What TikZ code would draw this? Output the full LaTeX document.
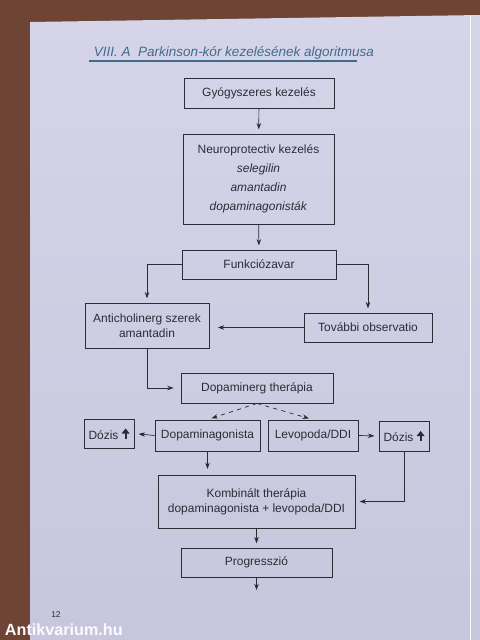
\documentclass[tikz,border=0pt]{standalone}
\usepackage{amsmath}
\usepackage{amssymb}
\usepackage{fontspec}
\setmainfont{Liberation Sans}
\usepackage{xcolor}
\usetikzlibrary{arrows.meta}

\definecolor{woodc}{HTML}{6E4434}
\definecolor{pagetop}{HTML}{D6D4E8}
\definecolor{pagebot}{HTML}{C8C6DD}
\definecolor{titlec}{HTML}{3F6C8C}
\definecolor{inkc}{HTML}{2C2C36}

\newcommand{\felnyil}{\tikz[baseline=-0.5pt]\draw[inkc, line width=1.4pt, -{Triangle[length=3.6pt,width=5.5pt]}] (0,0) -- (0,7.2pt);}

\begin{document}
\begin{tikzpicture}[x=0.025cm, y=-0.025cm,
        box/.style={draw=inkc, line width=0.6pt, inner sep=1pt, align=center,
                    font=\fontsize{8.5}{10.5}\selectfont, text=inkc},
        conn/.style={draw=inkc, line width=0.5pt, -{Stealth[length=4.5pt,width=3.2pt]}},
        gap/.style={shorten >=3pt}]
                \useasboundingbox (0,0) rectangle (480,640);
                \fill[woodc] (0,0) rectangle (480,640);
                \shade[top color=pagetop, bottom color=pagebot] (30,22) -- (480,15) -- (480,640) -- (30,640) -- cycle;
                \draw[white!85!pagetop, line width=0.6pt] (470,16) -- (470,640);

                \node[anchor=base west, text=titlec, font=\fontsize{9.6}{11}\selectfont\itshape] (title) at (89,56) {VIII. A\ \ Parkinson-kór kezelésének algoritmusa};
                \draw[titlec, line width=1.1pt] (89,61) -- (357,61);

                \node[box, minimum width=3.75cm, minimum height=0.75cm] (gyogy) at (259,93) {Gyógyszeres kezelés};
                \node[box, minimum width=3.775cm, minimum height=2.25cm, font=\fontsize{8.5}{13.5}\selectfont] (neuro) at (258.5,179)
                        {Neuroprotectiv kezelés\\ \textit{selegilin}\\ \textit{amantadin}\\ \textit{dopaminagonisták}};
                \node[box, minimum width=3.85cm, minimum height=0.725cm] (funk) at (259,264.5) {Funkciózavar};
                \node[box, minimum width=3.1cm, minimum height=1.125cm] (antich) at (147,325.5) {Anticholinerg szerek\\ amantadin};
                \node[box, minimum width=3.2cm, minimum height=0.725cm] (tovabbi) at (368,327.5) {További observatio};
                \node[box, minimum width=3.8cm, minimum height=0.75cm] (dopther) at (257,388) {Dopaminerg therápia};
                \node[box, minimum width=1.25cm, minimum height=0.725cm] (dozisL) at (109,433.5) {Dózis \felnyil};
                \node[box, minimum width=2.625cm, minimum height=0.775cm] (dopag) at (207.5,435.5) {Dopaminagonista};
                \node[box, minimum width=2.25cm, minimum height=0.775cm] (levo) at (313,435.5) {Levopoda/DDI};
                \node[box, minimum width=1.25cm, minimum height=0.75cm] (dozisR) at (404,436) {Dózis \felnyil};
                \node[box, minimum width=4.925cm, minimum height=1.325cm] (komb) at (256.5,501.5) {Kombinált therápia\\ dopaminagonista + levopoda/DDI};
                \node[box, minimum width=3.775cm, minimum height=0.725cm] (progr) at (256.5,562.5) {Progresszió};
                \coordinate (vege) at (256.5,590);

                \draw[conn, gap] (gyogy) -- (neuro);
                \draw[conn, gap] (neuro) -- (funk);
                \draw[conn, gap=8pt] (funk.west) -| (antich.north);
                \draw[conn, gap] (funk.east) -| (tovabbi.north);
                \draw[conn, shorten >=6pt] (tovabbi.west) -- (tovabbi.west -| antich.east);
                \draw[conn, shorten >=5pt] (antich.south) |- (dopther.west);
                \draw[conn, dashed, shorten >=3pt] (dopther.south) -- (dopag.north);
                \draw[conn, dashed, shorten >=3pt] (dopther.south) -- (levo.north);
                \draw[conn, gap] (dopag.west) -- (dozisL.east);
                \draw[conn, gap] (levo.east) -- (dozisR.west);
                \draw[conn, shorten >=4pt] (dopag.south) -- (dopag.south |- komb.north);
                \draw[conn, shorten >=3pt] (dozisR.south) |- (komb.east);
                \draw[conn, gap] (komb) -- (progr);
                \draw[conn] (progr) -- (vege);

                \node[font=\fontsize{6}{7}\selectfont, text=inkc] (oldal) at (56,615) {12};
                \node[anchor=west, font=\fontsize{11.5}{13}\selectfont\bfseries, text=white!90!pagetop] (jel) at (0,630) {Antikvarium.hu};
\end{tikzpicture}
\end{document}
